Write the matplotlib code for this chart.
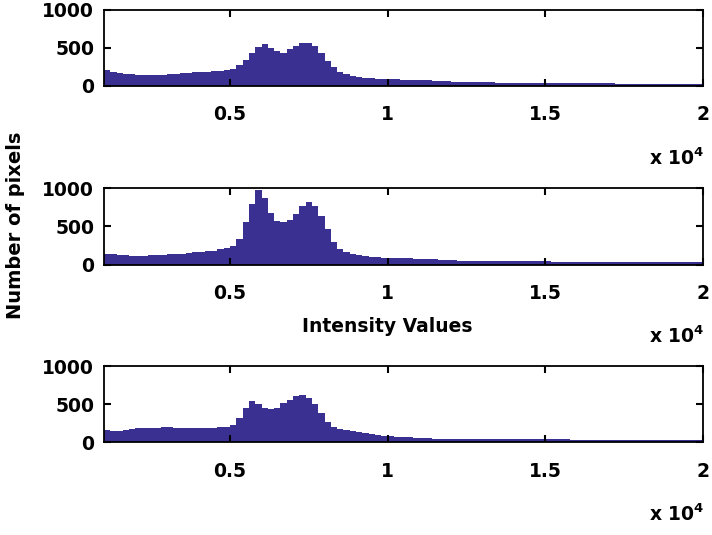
import numpy as np
import matplotlib
matplotlib.use("Agg")
import matplotlib.pyplot as plt

plt.rcParams['font.family'] = ['DejaVu Sans']
plt.rcParams['font.weight'] = 'bold'
plt.rcParams['mathtext.default'] = 'bf'

# Histogram bins: width 200, from 1000 to 20000 (95 bins)
bin_start = 1000
bin_width = 200

counts_1 = [
    215, 185, 168, 158, 152, 148, 142, 140, 143, 148,
    152, 160, 166, 172, 180, 185, 190, 196, 203, 212,
    228, 270, 345, 440, 515, 555, 505, 462, 440, 490,
    522, 562, 568, 528, 430, 335, 250, 185, 155, 132,
    120, 108, 102, 97, 93, 90, 88, 85, 82, 80,
    78, 74, 70, 66, 62, 58, 55, 53, 51, 50,
    48, 46, 44, 42, 41, 40, 39, 39, 38, 38,
    37, 37, 36, 36, 35, 35, 34, 34, 33, 33,
    33, 32, 32, 31, 31, 30, 30, 30, 29, 29,
    29, 28, 28, 28, 27,
]
counts_2 = [
    140, 135, 128, 122, 118, 117, 118, 120, 124, 128,
    132, 137, 142, 150, 158, 166, 175, 184, 198, 215,
    245, 340, 560, 800, 975, 880, 680, 575, 558, 585,
    660, 775, 820, 775, 635, 470, 300, 210, 165, 140,
    120, 108, 100, 95, 91, 89, 86, 83, 80, 78,
    76, 73, 70, 64, 58, 54, 51, 49, 47, 46,
    45, 44, 43, 43, 42, 42, 41, 41, 40, 40,
    40, 39, 39, 38, 38, 38, 37, 37, 37, 36,
    36, 36, 35, 35, 35, 34, 34, 34, 33, 33,
    33, 32, 32, 32, 32,
]
counts_3 = [
    160, 155, 150, 165, 178, 186, 190, 194, 196, 200,
    198, 192, 188, 188, 190, 192, 193, 196, 200, 210,
    232, 320, 460, 545, 500, 455, 445, 452, 525, 560,
    615, 628, 590, 500, 385, 270, 205, 178, 158, 145,
    133, 122, 113, 100, 88, 82, 76, 70, 66, 62,
    58, 55, 52, 50, 49, 48, 47, 47, 46, 46,
    46, 45, 45, 44, 44, 43, 43, 42, 42, 41,
    41, 40, 40, 40, 39, 39, 38, 38, 38, 37,
    37, 37, 36, 36, 36, 35, 35, 35, 34, 34,
    34, 34, 33, 33, 33,
]

x_ticks = [5000, 10000, 15000, 20000]
x_tick_labels = ['0.5', '1', '1.5', '2']
y_ticks = [0, 500, 1000]
y_tick_labels = ['0', '500', '1000']

bar_color = '#3a3092'

fig = plt.figure(figsize=(7.12, 5.35), dpi=100)

bottoms = [0.8393, 0.5056, 0.1729]
left, width, height = 0.146, 0.841, 0.1421
series = [counts_1, counts_2, counts_3]

axes = []
for b, counts in zip(bottoms, series):
    ax = fig.add_axes([left, b, width, height])
    edges = bin_start + bin_width * np.arange(len(counts) + 1)
    ax.stairs(counts, edges, fill=True, color=bar_color, linewidth=0)
    ax.set_xlim(1000, 20000)
    ax.set_ylim(0, 1000)
    ax.set_xticks(x_ticks)
    ax.set_xticklabels(x_tick_labels)
    ax.set_yticks(y_ticks)
    ax.set_yticklabels(y_tick_labels)
    ax.tick_params(axis='both', direction='in', length=5, width=1.5,
                   top=True, right=True, labelsize=13.5)
    ax.tick_params(axis='x', pad=14)
    ax.tick_params(axis='y', pad=7)
    for lbl in ax.get_xticklabels() + ax.get_yticklabels():
        lbl.set_fontweight('bold')
    for sp in ax.spines.values():
        sp.set_linewidth(1.3)
        sp.set_color('black')
    ax.annotate(r'x 10$^{4}$', xy=(1, 0), xycoords='axes fraction',
                xytext=(2, -72), textcoords='offset pixels',
                ha='right', va='center', fontsize=13.5, fontweight='bold')
    axes.append(ax)

axes[1].annotate('Intensity Values', xy=(0.473, 0), xycoords='axes fraction',
                 xytext=(0, -62), textcoords='offset pixels',
                 ha='center', va='center', fontsize=13.5, fontweight='bold')

fig.text(16 / 712, 1 - 225 / 535, 'Number of pixels', rotation=90,
         ha='center', va='center', fontsize=14, fontweight='bold')

fig.savefig('out.png', dpi=100)
